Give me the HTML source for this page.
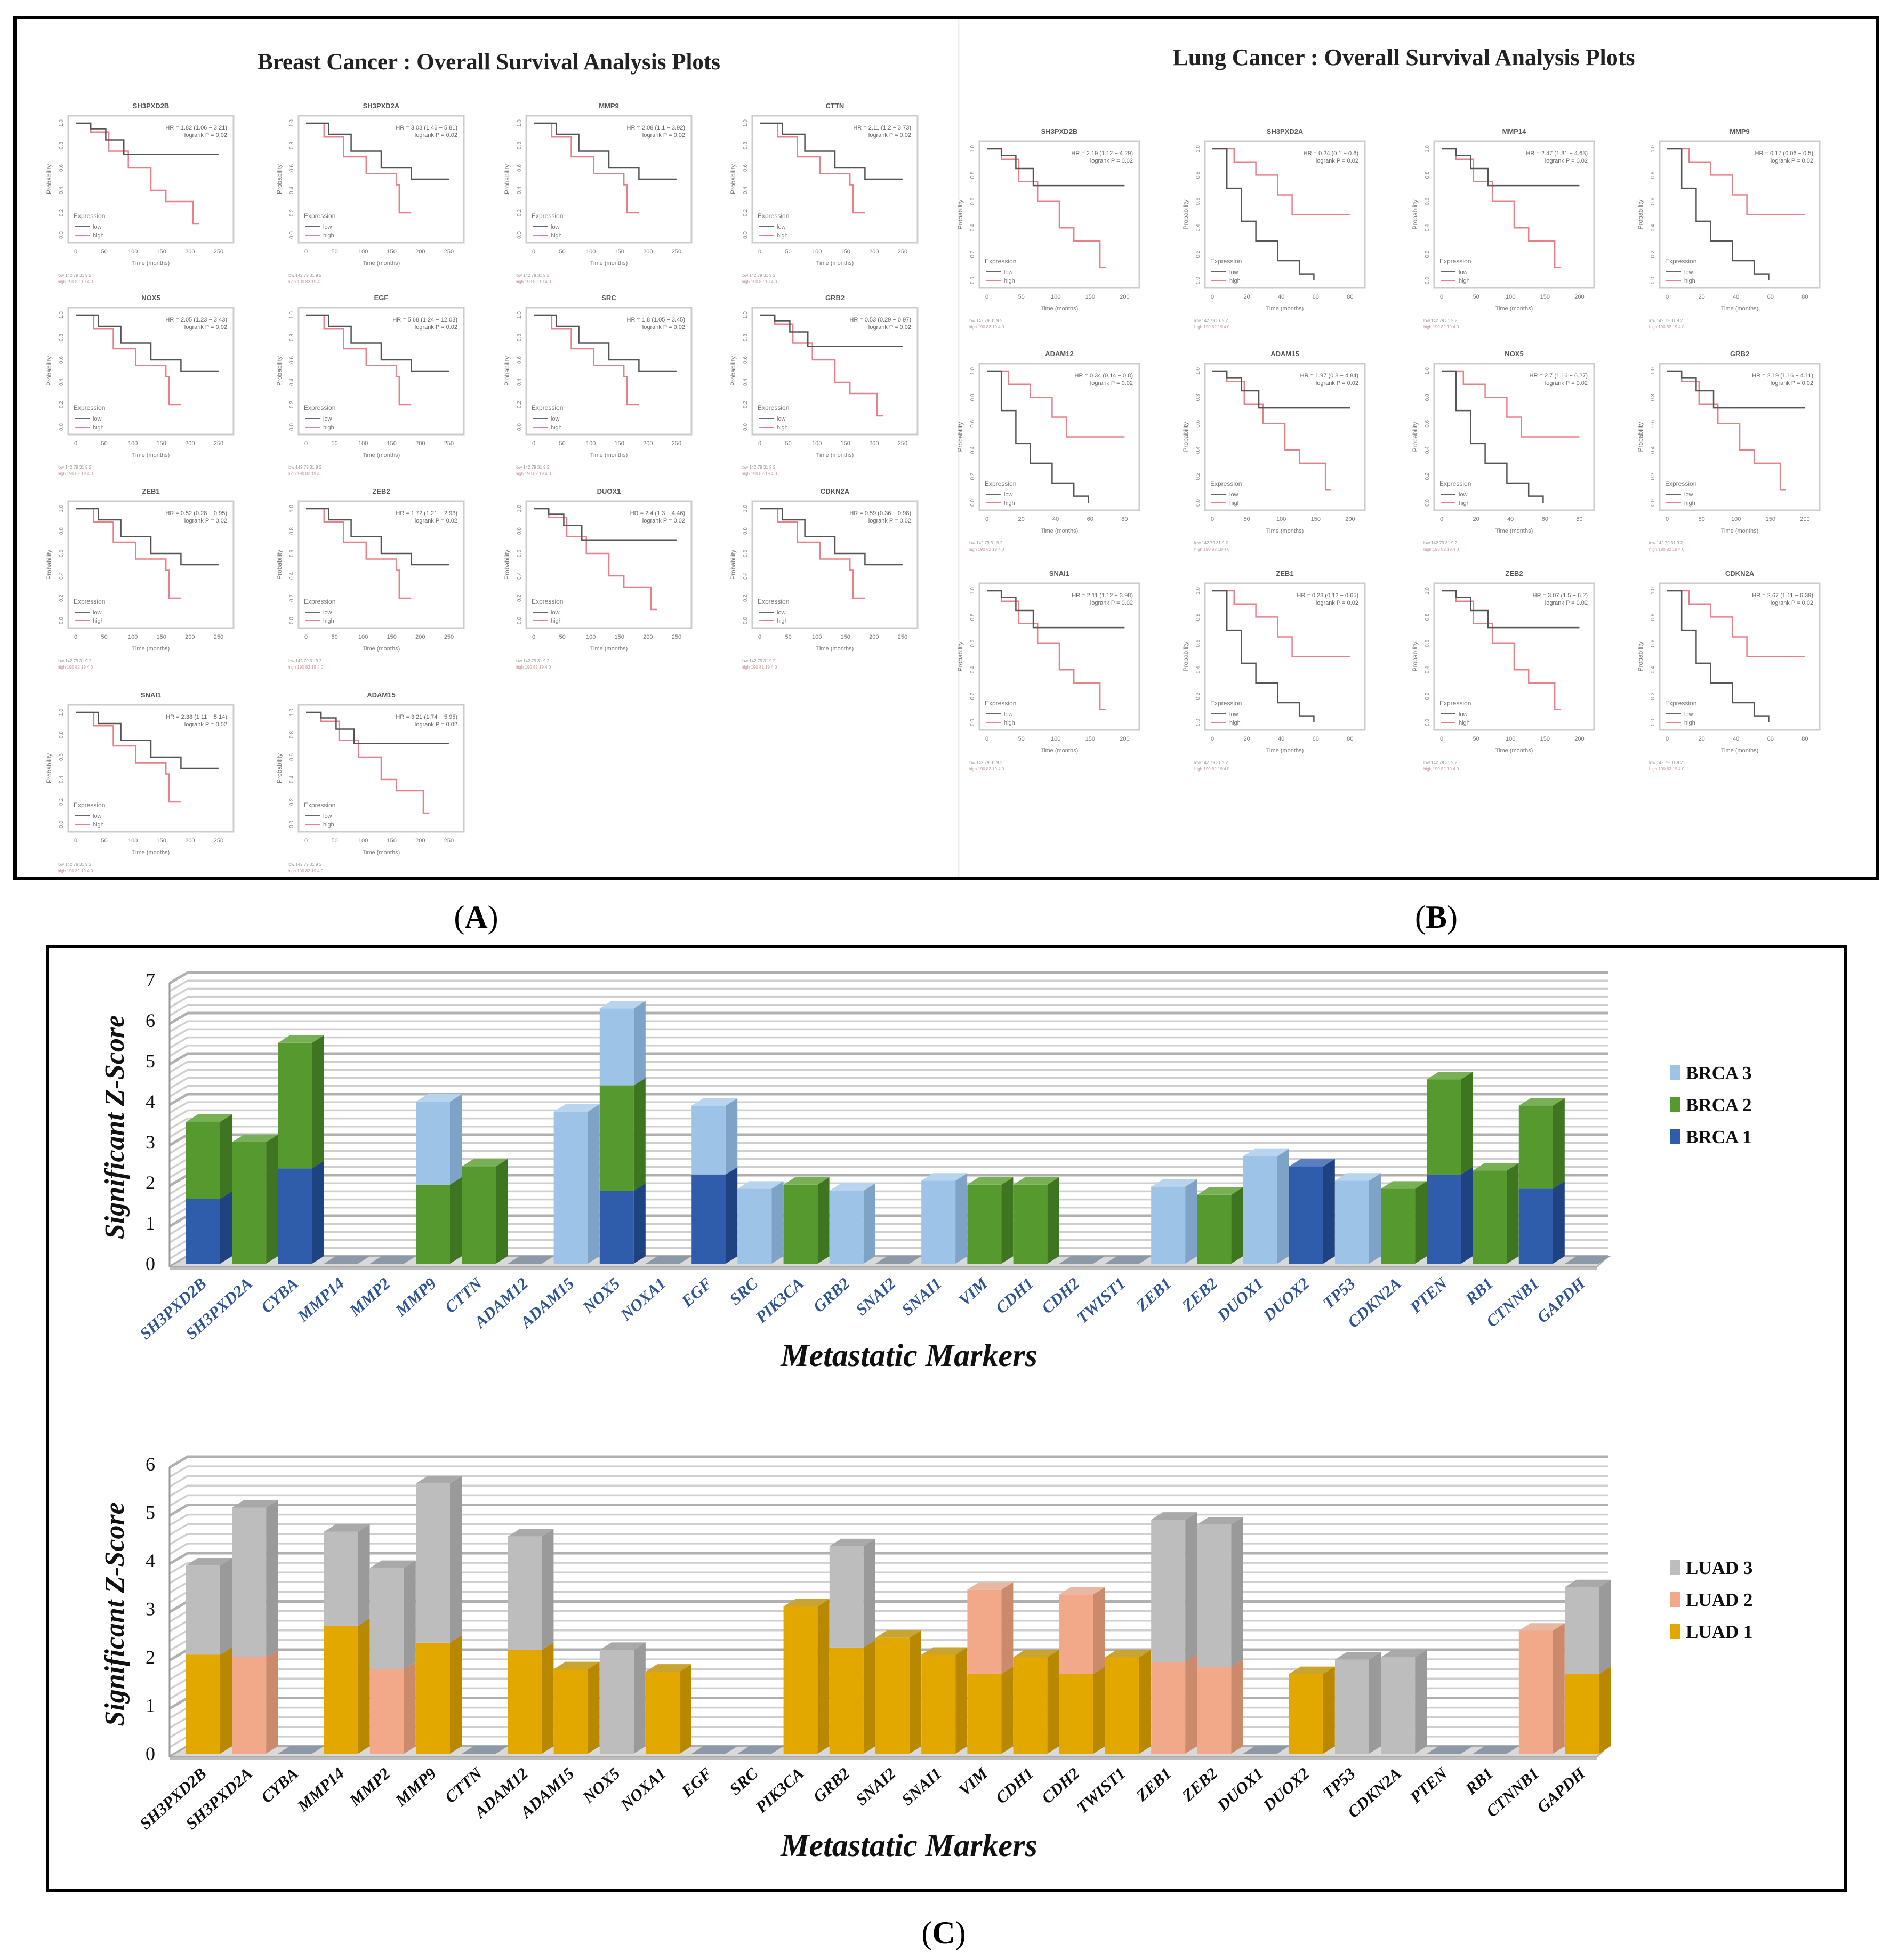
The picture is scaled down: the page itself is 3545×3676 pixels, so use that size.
<!DOCTYPE html>
<html><head><meta charset="utf-8">
<style>
html,body{margin:0;padding:0;background:#fff;}
svg{display:block;font-family:"Liberation Serif",serif;}
</style></head>
<body>
<svg id="fig" xmlns="http://www.w3.org/2000/svg" width="3545" height="3676" viewBox="0 0 3545 3676">
<rect x="28" y="33" width="3494" height="1615" fill="#fff" stroke="#000" stroke-width="6"/>
<line x1="1798" y1="36" x2="1798" y2="1645" stroke="#eee" stroke-width="3"/>
<text x="917" y="130" font-size="43" font-weight="bold" text-anchor="middle" fill="#222">Breast Cancer : Overall Survival Analysis Plots</text>
<text x="2633" y="122" font-size="44" font-weight="bold" text-anchor="middle" fill="#222">Lung Cancer : Overall Survival Analysis Plots</text>
<text x="893" y="1740" font-size="60" text-anchor="middle">(<tspan font-weight="bold">A</tspan>)</text>
<text x="2694" y="1740" font-size="60" text-anchor="middle">(<tspan font-weight="bold">B</tspan>)</text>
<rect x="89" y="1775" width="3372" height="1770" fill="#fff" stroke="#000" stroke-width="6"/>
<text x="1770" y="3645" font-size="60" text-anchor="middle">(<tspan font-weight="bold">C</tspan>)</text>
<g id="km"></g>
<g id="chart1"></g>
<g id="chart2"></g>
</svg>
<script>
// ---------- Bar chart data ----------
const markers1 = ["SH3PXD2B","SH3PXD2A","CYBA","MMP14","MMP2","MMP9","CTTN","ADAM12","ADAM15","NOX5","NOXA1","EGF","SRC","PIK3CA","GRB2","SNAI2","SNAI1","VIM","CDH1","CDH2","TWIST1","ZEB1","ZEB2","DUOX1","DUOX2","TP53","CDKN2A","PTEN","RB1","CTNNB1","GAPDH"];
const brca1 = [1.6,0,2.35,0,0,0,0,0,0,1.8,0,2.2,0,0,0,0,0,0,0,0,0,0,0,0,2.4,0,0,2.2,0,1.85,0];
const brca2 = [1.9,3.0,3.1,0,0,1.95,2.4,0,0,2.6,0,0,0,1.95,0,0,0,1.95,1.95,0,0,0,1.7,0,0,0,1.85,2.35,2.3,2.05,0];
const brca3 = [0,0,0,0,0,2.05,0,0,3.75,1.9,0,1.7,1.85,0,1.8,0,2.05,0,0,0,0,1.9,0,2.65,0,2.05,0,0,0,0,0];
const luad1 = [2.05,0,0,2.65,0,2.3,0,2.15,1.75,0,1.7,0,0,3.05,2.2,2.4,2.05,1.65,2.0,1.65,2.0,0,0,0,1.65,0,0,0,0,0,1.65];
const luad2 = [0,2.0,0,0,1.75,0,0,0,0,0,0,0,0,0,0,0,0,1.75,0,1.65,0,1.9,1.8,0,0,0,0,0,0,2.55,0];
const luad3 = [1.85,3.1,0,1.95,2.1,3.3,0,2.35,0,2.15,0,0,0,0,2.1,0,0,0,0,0,0,2.95,2.95,0,0,1.95,2.0,0,0,0,1.8];
const ticks1 = ["0","1","2","3","4","5","6","7"];
const ticks2 = ["0","1","2","3","4","5","6"];
const legend1 = ["BRCA 3","BRCA 2","BRCA 1"];
const legend2 = ["LUAD 3","LUAD 2","LUAD 1"];

// ---------- KM data ----------
const breastGenes = ["SH3PXD2B","SH3PXD2A","MMP9","CTTN","NOX5","EGF","SRC","GRB2","ZEB1","ZEB2","DUOX1","CDKN2A","SNAI1","ADAM15"];
const breastHR = ["HR = 1.82 (1.06 − 3.21)","HR = 3.03 (1.46 − 5.81)","HR = 2.08 (1.1 − 3.92)","HR = 2.11 (1.2 − 3.73)","HR = 2.05 (1.23 − 3.43)","HR = 5.68 (1.24 − 12.03)","HR = 1.8 (1.05 − 3.45)","HR = 0.53 (0.29 − 0.97)","HR = 0.52 (0.28 − 0.95)","HR = 1.72 (1.21 − 2.93)","HR = 2.4 (1.3 − 4.46)","HR = 0.59 (0.36 − 0.98)","HR = 2.38 (1.11 − 5.14)","HR = 3.21 (1.74 − 5.95)"];
const lungGenes = ["SH3PXD2B","SH3PXD2A","MMP14","MMP9","ADAM12","ADAM15","NOX5","GRB2","SNAI1","ZEB1","ZEB2","CDKN2A"];
const lungHR = ["HR = 2.19 (1.12 − 4.29)","HR = 0.24 (0.1 − 0.6)","HR = 2.47 (1.31 − 4.63)","HR = 0.17 (0.06 − 0.5)","HR = 0.34 (0.14 − 0.8)","HR = 1.97 (0.8 − 4.84)","HR = 2.7 (1.16 − 6.27)","HR = 2.19 (1.16 − 4.11)","HR = 2.11 (1.12 − 3.98)","HR = 0.28 (0.12 − 0.65)","HR = 3.07 (1.5 − 6.2)","HR = 2.67 (1.11 − 6.39)"];
const kmLowA = [[0,1],[0.1,0.95],[0.2,0.85],[0.32,0.72],[0.95,0.72]];
const kmHighA = [[0,1],[0.1,0.92],[0.22,0.75],[0.35,0.6],[0.5,0.4],[0.6,0.3],[0.75,0.3],[0.78,0.1],[0.82,0.1]];
const kmLowB = [[0,1],[0.15,0.9],[0.3,0.75],[0.5,0.6],[0.7,0.5],[0.95,0.5]];
const kmHighB = [[0,1],[0.12,0.88],[0.25,0.7],[0.4,0.55],[0.6,0.45],[0.62,0.2],[0.7,0.2]];
const kmLowC = [[0,1],[0.1,0.7],[0.2,0.45],[0.3,0.3],[0.45,0.15],[0.6,0.05],[0.7,0]];
const kmHighC = [[0,1],[0.15,0.9],[0.3,0.8],[0.45,0.65],[0.55,0.5],[0.95,0.5]];

const NS = "http://www.w3.org/2000/svg";
function mk(tag, attrs, parent){const e=document.createElementNS(NS,tag);for(const k in attrs)e.setAttribute(k,attrs[k]);parent.appendChild(e);return e;}

// ---------- KM plots ----------
const km = document.getElementById('km');
function drawKM(x,y,w,h,name,hr,low,high,tmax,tstep){
  const g = mk('g',{},km);
  
  
  const t = mk('text',{x:x+w/2,y:y-14,'font-size':13,'font-weight':'bold','text-anchor':'middle',fill:'#555','font-family':'Liberation Sans'},g);t.textContent=name;
  
  
  mk('rect',{x:x,y:y,width:w,height:h,fill:'none',stroke:'#ccc','stroke-width':3},g);
  const sx=f=>x+14+f*(w-28), sy=s=>y+14+(1-s)*(h-28);
  function path(pts,col){let d='M'+sx(pts[0][0])+','+sy(pts[0][1]);for(let i=1;i<pts.length;i++){d+=' H'+sx(pts[i][0])+' V'+sy(pts[i][1]);}
    const p=mk('path',{d:d,fill:'none',stroke:col,'stroke-width':2.5},g);
    
    }
  path(high,'#e8808a');path(low,'#555');
  const h1=mk('text',{x:x+w-12,y:y+26,'font-size':11,'text-anchor':'end',fill:'#666','font-family':'Liberation Sans'},g);h1.textContent=hr;
  const h2=mk('text',{x:x+w-12,y:y+40,'font-size':11,'text-anchor':'end',fill:'#666','font-family':'Liberation Sans'},g);h2.textContent='logrank P = 0.02';
  const e1=mk('text',{x:x+10,y:y+h-46,'font-size':12,fill:'#777','font-family':'Liberation Sans'},g);e1.textContent='Expression';
  mk('line',{x1:x+12,y1:y+h-30,x2:x+40,y2:y+h-30,stroke:'#666','stroke-width':2},g);
  const e2=mk('text',{x:x+46,y:y+h-26,'font-size':11,fill:'#777','font-family':'Liberation Sans'},g);e2.textContent='low';
  mk('line',{x1:x+12,y1:y+h-14,x2:x+40,y2:y+h-14,stroke:'#e8808a','stroke-width':2},g);
  const e3=mk('text',{x:x+46,y:y+h-10,'font-size':11,fill:'#777','font-family':'Liberation Sans'},g);e3.textContent='high';
  const yl=mk('text',{x:0,y:0,'font-size':12,fill:'#777','text-anchor':'middle','font-family':'Liberation Sans',transform:`translate(${x-32},${y+h/2}) rotate(-90)`},g);yl.textContent='Probability';
  for(let i=0;i<=5;i++){const v=(i*0.2).toFixed(1);const tt=mk('text',{x:0,y:0,'font-size':10,fill:'#888','text-anchor':'middle','font-family':'Liberation Sans',transform:`translate(${x-10},${sy(i*0.2)}) rotate(-90)`},g);tt.textContent=v;}
  for(let v=0;v<=tmax;v+=tstep){const tt=mk('text',{x:sx(v/tmax*0.95),y:y+h+20,'font-size':11,fill:'#777','text-anchor':'middle','font-family':'Liberation Sans'},g);tt.textContent=v;}
  const xl=mk('text',{x:x+w/2,y:y+h+42,'font-size':11,fill:'#777','text-anchor':'middle','font-family':'Liberation Sans'},g);xl.textContent='Time (months)';
  const r1=mk('text',{x:x-20,y:y+h+64,'font-size':8,fill:'#999','font-family':'Liberation Sans'},g);r1.textContent='low   142        79         31         9         2';
  const r2=mk('text',{x:x-20,y:y+h+76,'font-size':8,fill:'#c99','font-family':'Liberation Sans'},g);r2.textContent='high  190        82         19         4         0';
}
const bCols=[128,560,987,1411], bRows=[217,577,940,1322];
const kmPairsB=[[kmLowA,kmHighA],[kmLowB,kmHighB],[kmLowB,kmHighB],[kmLowB,kmHighB]];
breastGenes.forEach((n,i)=>{const c=i%4,r=Math.floor(i/4);const p=kmPairsB[(i+r)%4];drawKM(bCols[c],bRows[r],310,238,n,breastHR[i],p[0],p[1],250,50);});
const lCols=[1837,2260,2690,3113], lRows=[265,682,1094];
const kmPairsL=[[kmLowA,kmHighA],[kmLowC,kmHighC],[kmLowA,kmHighA],[kmLowC,kmHighC]];
lungGenes.forEach((n,i)=>{const c=i%4,r=Math.floor(i/4);const p=kmPairsL[(i+r)%4];const long=(p[0]===kmLowA);drawKM(lCols[c],lRows[r],300,275,n,lungHR[i],p[0],p[1],long?200:80,long?50:20);});

// ---------- 3D stacked bar charts ----------
function drawChart(gid, cats, series, colors, sides, tops, ticks, legend, y0, unit, labCol, legY){
  const g = document.getElementById(gid);
  const x0=330, x1=2995, dx=22, dy=-14, bw=64;
  const cx=i=>381+i*86.2;
  const ys=v=>y0-v*unit;
  const maxV=ticks.length-1;
  for(let k=0;k<=maxV*5;k++){
    const v=k/5, yy=ys(v);
    const gl=mk('path',{d:`M${x0-12},${yy+6} L${x0+dx},${yy+dy} H${x1+dx}`,fill:'none',stroke:k%5===0?'#b0b0b0':'#cfcfcf','stroke-width':k%5===0?5:3.5},g);
    
    
  }
  mk('line',{x1:x0-12,y1:ys(maxV)+6,x2:x0-12,y2:y0+6,stroke:'#999','stroke-width':3},g);
  const fl=mk('polygon',{points:`${x0-12},${y0+6} ${x1},${y0+6} ${x1+dx},${y0+dy} ${x0+dx},${y0+dy}`,fill:'#d9d9d9',stroke:'#aaa','stroke-width':2},g);
  
  
  mk('rect',{x:x0-12,y:y0+6,width:x1-x0+12,height:6,fill:'#bdbdbd'},g);
  ticks.forEach((t,i)=>{const e=mk('text',{x:282,y:ys(i)+12,'font-size':36,'text-anchor':'middle',fill:'#111'},g);e.textContent=t;
    
    });
  cats.forEach((c,i)=>{
    let base=0; const x=cx(i)-bw/2;
    let total=0; series.forEach(s=>total+=s[i]);
    if(total===0){
      const z=mk('polygon',{points:`${x},${y0} ${x+bw},${y0} ${x+bw+dx},${y0+dy} ${x+dx},${y0+dy}`,fill:'#8c9aa8'},g);
      
      
    }
    series.forEach((s,si)=>{
      const v=s[i]; if(!v) return;
      const yt=ys(base+v), yb=ys(base);
      const r=mk('rect',{x:x,y:yt,width:bw,height:yb-yt,fill:colors[si]},g);
      
      
      mk('polygon',{points:`${x+bw},${yb} ${x+bw+dx},${yb+dy} ${x+bw+dx},${yt+dy} ${x+bw},${yt}`,fill:sides[si]},g);
      base+=v;
    });
    if(total>0){const yt=ys(total);let ti=0;series.forEach((s,si)=>{if(s[i])ti=si;});
      mk('polygon',{points:`${x},${yt} ${x+bw},${yt} ${x+bw+dx},${yt+dy} ${x+dx},${yt+dy}`,fill:tops[ti]},g);}
    const lb=mk('text',{x:0,y:0,'font-size':31,'font-weight':'bold','font-style':'italic','text-anchor':'end',fill:labCol,transform:`translate(${cx(i)+8},${y0+40}) rotate(-42)`},g);
    lb.textContent=c;
    
    
  });
  const xt=mk('text',{x:1705,y:y0+192,'font-size':60,'font-weight':'bold','font-style':'italic','text-anchor':'middle',fill:'#111'},g);
  xt.textContent='Metastatic Markers';
  
  
  const yt=mk('text',{x:0,y:0,'font-size':52,'font-weight':'bold','font-style':'italic','text-anchor':'middle',fill:'#111',transform:`translate(232,${ys(maxV/2)+10}) rotate(-90)`},g);
  yt.textContent='Significant Z-Score';
  
  
  legend.forEach((l,k)=>{const si=2-k;const yy=legY+k*60;
    const sw=mk('rect',{x:3132,y:yy-26,width:20,height:28,fill:colors[si]},g);
    
    
    const e=mk('text',{x:3162,y:yy,'font-size':35,'font-weight':'bold',fill:'#111'},g);e.textContent=l;
    
    });
}
drawChart('chart1',markers1,[brca1,brca2,brca3],['#2f5dab','#55992f','#9dc3e6'],['#1f4380','#3d7520','#7ea3c6'],['#5a7fc0','#77b055','#b9d4ee'],ticks1,legend1,2370,76,'#2f5597',2024);
drawChart('chart2',markers1,[luad1,luad2,luad3],['#e3a800','#f2a98a','#bdbdbd'],['#b88800','#cc8a6c','#9a9a9a'],['#c9a430','#e8b8a3','#a9a9a9'],ticks2,legend2,3289,90.5,'#111',2952);
</script>
</body></html>
